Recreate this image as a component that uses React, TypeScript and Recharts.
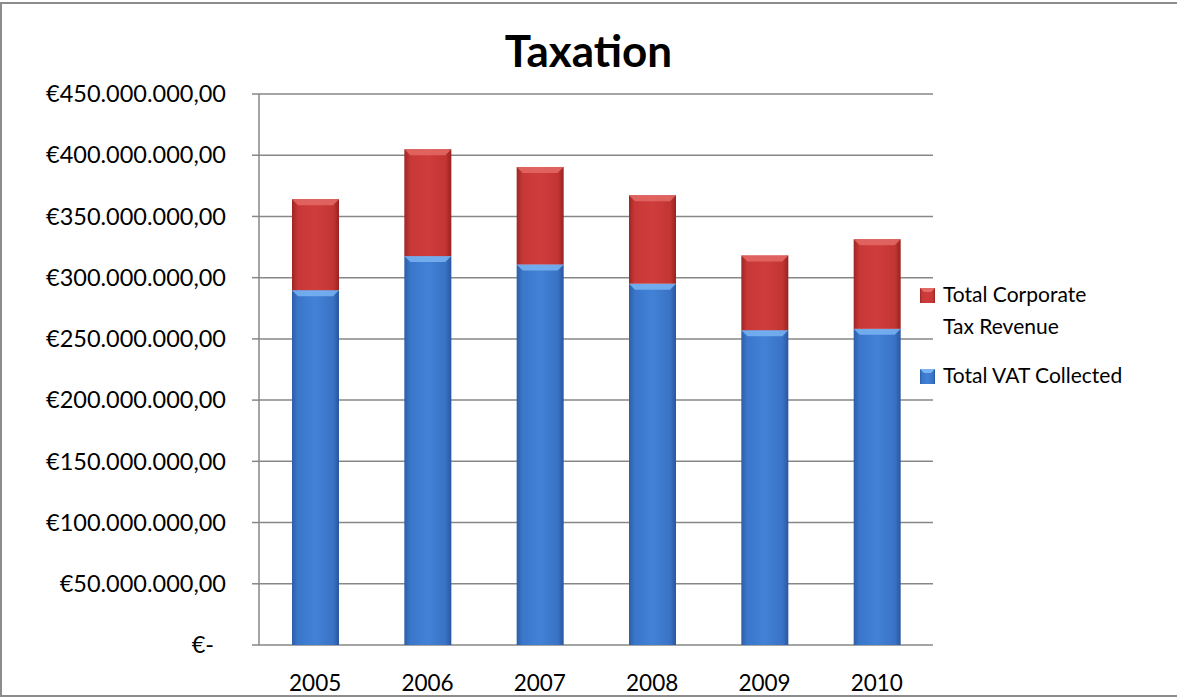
import React from 'react';
import {
  BarChart,
  Bar,
  XAxis,
  YAxis,
  CartesianGrid,
} from 'recharts';

const years = ['2005', '2006', '2007', '2008', '2009', '2010'];
// totals, in euro
const vatCollected = [289800000, 317600000, 310800000, 295100000, 257100000, 258200000];
const corporateTax = [74300000, 87300000, 79600000, 72200000, 61000000, 73200000];
const yTicks = [0, 50000000, 100000000, 150000000, 200000000, 250000000, 300000000, 350000000, 400000000, 450000000];
const edgeTicks = [0, 1, 2, 3, 4, 5, 6];

const data = years.map((year, i) => ({
  year,
  vat: vatCollected[i],
  corp: corporateTax[i],
}));

const FONT = 'Lato, "Liberation Sans", sans-serif';
const GRID = '#878787';

const tones = {
  red: { grad: 'redBody', bevel: '#e36a66' },
  blue: { grad: 'blueBody', bevel: '#7ab4f2' },
};

// Excel-like bevelled bar: darker edges, light bevel on top
const BevelBar = (props: any) => {
  const { x, y, width, height, tone } = props;
  if (!height || height <= 0) return null;
  const t = tones[tone as 'red' | 'blue'];
  const b = Math.min(6, height / 2);
  return (
    <g>
      <rect x={x} y={y} width={width} height={height} fill={`url(#${t.grad})`} />
      <polygon
        points={`${x},${y} ${x + width},${y} ${x + width - b},${y + b} ${x + b},${y + b}`}
        fill={t.bevel}
        opacity={0.85}
      />
    </g>
  );
};

const formatEuro = (v: number) => {
  if (v === 0) return '€-';
  const whole = Math.round(v).toString().replace(/\B(?=(\d{3})+(?!\d))/g, '.');
  return `€${whole},00`;
};

const YTick = (props: any) => {
  const { x, y, payload } = props;
  const zero = payload.value === 0;
  return (
    <text
      x={zero ? x - 12 : x}
      y={y}
      dy="0.35em"
      textAnchor="end"
      fill="#000"
      fontSize={23.5}
      fontFamily={FONT}
    >
      {formatEuro(payload.value)}
    </text>
  );
};

const legendItems = [
  { lines: ['Total Corporate', 'Tax Revenue'], grad: 'redBody' },
  { lines: ['Total VAT Collected'], grad: 'blueBody' },
];

export default function App() {
  return (
    <div
      style={{
        position: 'absolute',
        top: 0,
        left: 0,
        width: 1177,
        height: 698,
        background: '#fff',
        overflow: 'hidden',
        fontFamily: FONT,
      }}
    >
      <div
        style={{
          position: 'absolute',
          left: 0,
          top: 2,
          width: 1200,
          height: 695,
          boxSizing: 'border-box',
          borderLeft: '2px solid #8c8c8c',
          borderTop: '2px solid #8c8c8c',
          borderBottom: '2px solid #8c8c8c',
        }}
      />
      <div
        style={{
          position: 'absolute',
          top: 24,
          left: 0,
          width: 1177,
          textAlign: 'center',
          fontSize: 44,
          fontWeight: 700,
          lineHeight: 1.2,
          color: '#000',
        }}
      >
        Taxation
      </div>

      <div style={{ position: 'absolute', top: 0, left: 0 }}>
        <BarChart
          width={1177}
          height={698}
          data={data}
          margin={{ top: 94, right: 244, bottom: 0, left: 0 }}
        >
          <defs>
            <linearGradient id="redBody" x1="0" y1="0" x2="1" y2="0">
              <stop offset="0%" stopColor="#9e2623" />
              <stop offset="12%" stopColor="#c63837" />
              <stop offset="50%" stopColor="#cf3d3b" />
              <stop offset="88%" stopColor="#c23533" />
              <stop offset="100%" stopColor="#972320" />
            </linearGradient>
            <linearGradient id="blueBody" x1="0" y1="0" x2="1" y2="0">
              <stop offset="0%" stopColor="#2c5ea6" />
              <stop offset="12%" stopColor="#3a76ca" />
              <stop offset="50%" stopColor="#4282d6" />
              <stop offset="88%" stopColor="#3972c4" />
              <stop offset="100%" stopColor="#29569e" />
            </linearGradient>
          </defs>
          <CartesianGrid
            xAxisId="cat"
            horizontal
            vertical={false}
            stroke={GRID}
            strokeWidth={1.5}
          />
          <XAxis
            xAxisId="edges"
            type="number"
            domain={[0, 6]}
            ticks={edgeTicks}
            tick={false}
            tickSize={9}
            tickLine={{ stroke: GRID, strokeWidth: 1.5 }}
            axisLine={{ stroke: GRID, strokeWidth: 1.5 }}
            height={0}
          />
          <XAxis
            xAxisId="cat"
            dataKey="year"
            axisLine={false}
            tickLine={false}
            tickSize={9}
            tickMargin={21}
            height={53}
            tick={{ fill: '#000', fontSize: 22.5, fontFamily: FONT }}
            interval={0}
          />
          <YAxis
            width={259}
            domain={[0, 450000000]}
            ticks={yTicks}
            tickSize={7}
            tickMargin={26}
            tickLine={{ stroke: GRID, strokeWidth: 1.5 }}
            axisLine={{ stroke: GRID, strokeWidth: 1.5 }}
            tick={<YTick />}
            interval={0}
          />
          <Bar
            xAxisId="cat"
            dataKey="vat"
            name="Total VAT Collected"
            stackId="tax"
            barSize={47}
            isAnimationActive={false}
            shape={(p: any) => <BevelBar {...p} tone="blue" />}
          />
          <Bar
            xAxisId="cat"
            dataKey="corp"
            name="Total Corporate Tax Revenue"
            stackId="tax"
            barSize={47}
            isAnimationActive={false}
            shape={(p: any) => <BevelBar {...p} tone="red" />}
          />
        </BarChart>
      </div>

      <div style={{ position: 'absolute', left: 920, top: 278, fontSize: 21, color: '#000' }}>
        {legendItems.map((item, i) => (
          <div key={i} style={{ position: 'relative', paddingLeft: 23, marginBottom: 17, lineHeight: '32px' }}>
            <svg width={15} height={15} style={{ position: 'absolute', left: 0, top: 10 }}>
              <rect x={0} y={0} width={15} height={15} fill={`url(#${item.grad})`} />
              <polygon points="0,0 15,0 11,4 4,4" fill={i === 0 ? '#e36a66' : '#7ab4f2'} />
            </svg>
            {item.lines.map((l) => (
              <div key={l}>{l}</div>
            ))}
          </div>
        ))}
      </div>
    </div>
  );
}
